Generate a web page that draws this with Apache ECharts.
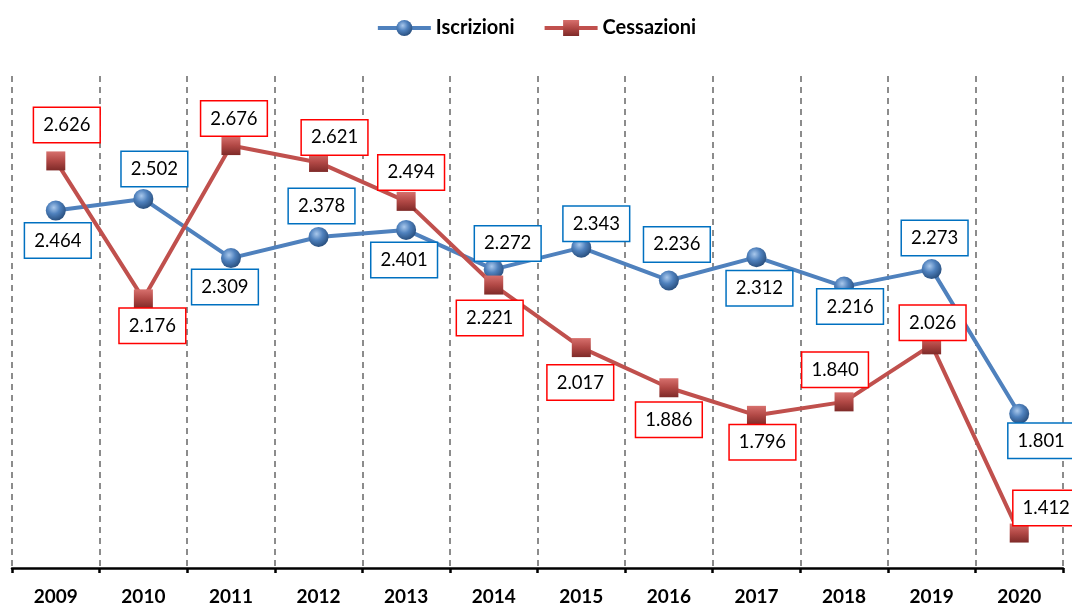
<!DOCTYPE html>
<html>
<head>
<meta charset="utf-8">
<script src="https://cdn.jsdelivr.net/npm/echarts@6/dist/echarts.min.js"></script>
<style>
  html, body { margin: 0; padding: 0; background: #fff; }
  #main { width: 1072px; height: 608px; }
</style>
</head>
<body>
<div id="main"></div>
<script>
  // dati (valori in unità, etichette con separatore delle migliaia)
  var anni = ["2009", "2010", "2011", "2012", "2013", "2014", "2015", "2016", "2017", "2018", "2019", "2020"];
  var iscrizioni = [2464, 2502, 2309, 2378, 2401, 2272, 2343, 2236, 2312, 2216, 2273, 1801];
  var cessazioni = [2626, 2176, 2676, 2621, 2494, 2221, 2017, 1886, 1796, 1840, 2026, 1412];

  // spostamento delle etichette rispetto al punto
  var offIscr = [[2, 30], [11, -30], [-6, 29], [3, -31], [-2, 30], [14, -26], [15, -24], [8, -36], [3, 31], [6, 20], [3, -31], [22, 27]];
  var offCess = [[11, -36], [9, 27], [3, -27], [16, -25], [5, -29], [-4, 33], [-1, 35], [0, 32], [6, 27], [-9, -32], [1, -22], [27, -25]];

  var font = "Lato, 'Liberation Sans', sans-serif";

  function fmt(v) {
    return Math.floor(v / 1000) + "." + String(v % 1000).padStart(3, "0");
  }

  function punti(valori, offsets, bordo) {
    return valori.map(function (v, i) {
      return {
        value: v,
        label: {
          show: true,
          position: "inside",
          offset: offsets[i],
          formatter: fmt(v),
          color: "#000",
          fontFamily: font,
          fontSize: 18.5,
          lineHeight: 20,
          backgroundColor: "#fff",
          borderColor: bordo,
          borderWidth: 1.5,
          padding: [7, 9]
        }
      };
    });
  }

  var chart = echarts.init(document.getElementById("main"));

  chart.setOption({
    animation: false,
    backgroundColor: "#fff",
    legend: {
      top: 13,
      left: "center",
      itemWidth: 53,
      itemHeight: 20,
      itemGap: 28,
      lineStyle: { width: 4 },
      textStyle: { fontFamily: font, fontSize: 20, fontWeight: "bold", color: "#000" },
      data: ["Iscrizioni", "Cessazioni"]
    },
    grid: { left: 12, right: 9, top: 76, bottom: 40 },
    xAxis: {
      type: "category",
      data: anni,
      boundaryGap: true,
      axisLine: { lineStyle: { color: "#000", width: 2.5 } },
      axisTick: { show: true, length: 5, lineStyle: { color: "#000", width: 2.5 } },
      axisLabel: { margin: 19, color: "#000", fontFamily: font, fontSize: 19, fontWeight: "bold" },
      splitLine: {
        show: true,
        lineStyle: { color: "#8c8c8c", width: 2, type: [6, 5] }
      }
    },
    yAxis: {
      type: "value",
      min: 1298,
      max: 2903,
      show: false,
      splitLine: { show: false }
    },
    series: [
      {
        name: "Iscrizioni",
        type: "line",
        symbol: "circle",
        symbolSize: 20,
        lineStyle: { color: "#4F81BD", width: 4 },
        itemStyle: {
          color: {
            type: "radial", x: 0.4, y: 0.35, r: 0.7,
            colorStops: [
              { offset: 0, color: "#a9c8ec" },
              { offset: 0.45, color: "#4F81BD" },
              { offset: 1, color: "#254a78" }
            ]
          }
        },
        z: 3,
        data: punti(iscrizioni, offIscr, "#0070C0")
      },
      {
        name: "Cessazioni",
        type: "line",
        symbol: "rect",
        symbolSize: 19,
        lineStyle: { color: "#C0504D", width: 4 },
        itemStyle: {
          color: {
            type: "linear", x: 0, y: 0, x2: 0, y2: 1,
            colorStops: [
              { offset: 0, color: "#d7706d" },
              { offset: 0.5, color: "#b14845" },
              { offset: 1, color: "#7e2a28" }
            ]
          }
        },
        z: 4,
        data: punti(cessazioni, offCess, "#FF0000")
      }
    ]
  });
</script>
</body>
</html>
